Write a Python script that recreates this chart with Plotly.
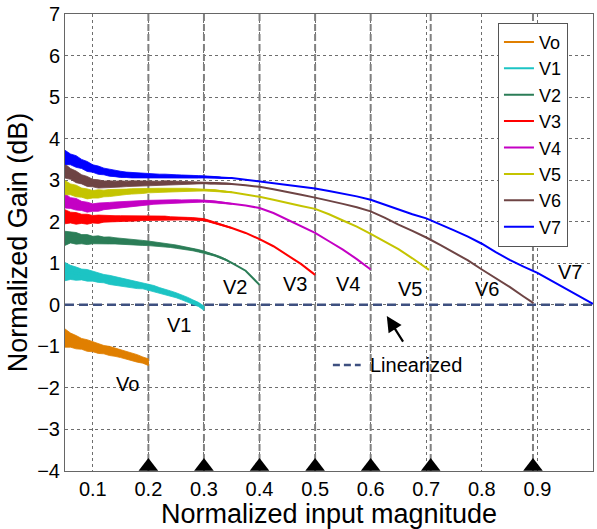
import plotly.graph_objects as go

# ---------------- data ----------------
X_N = [0.05, 0.06, 0.07, 0.08, 0.09, 0.10, 0.11, 0.12, 0.13, 0.14, 0.15, 0.16, 0.17,
       0.18, 0.19, 0.20, 0.21, 0.22, 0.23, 0.24, 0.25, 0.26, 0.27, 0.28, 0.29, 0.30,
       0.31, 0.32, 0.33, 0.34, 0.35]
X_S = [0.375, 0.40, 0.425, 0.45, 0.475, 0.50, 0.525, 0.55, 0.575, 0.60, 0.625, 0.65,
       0.675, 0.70, 0.725, 0.75, 0.775, 0.80, 0.825, 0.85, 0.875, 0.90, 0.925, 0.95,
       0.975, 1.0]

# mean gain curves (dB)
VO = [-0.80, -0.85, -0.90, -0.94, -0.98, -1.01, -1.05, -1.08, -1.11, -1.14, -1.17,
      -1.21, -1.25, -1.29, -1.33, -1.38]
V1 = [0.80, 0.78, 0.75, 0.73, 0.71, 0.69, 0.66, 0.63, 0.60, 0.58, 0.55, 0.53, 0.50,
      0.48, 0.46, 0.43, 0.39, 0.35, 0.31, 0.27, 0.23, 0.18, 0.13, 0.07, 0.01, -0.08]
V2 = [1.60, 1.62, 1.60, 1.58, 1.57, 1.56, 1.56, 1.55, 1.55, 1.54, 1.53, 1.52, 1.51,
      1.50, 1.49, 1.48, 1.47, 1.45, 1.44, 1.42, 1.40, 1.38, 1.35, 1.33, 1.30, 1.27,
      1.23, 1.19, 1.14, 1.08, 1.01,
      0.82, 0.48]
V3 = [2.12, 2.10, 2.08, 2.07, 2.06, 2.06, 2.06, 2.07, 2.07, 2.07, 2.07, 2.08, 2.08,
      2.08, 2.09, 2.09, 2.09, 2.09, 2.09, 2.08, 2.08, 2.08, 2.07, 2.07, 2.06, 2.05,
      2.01, 1.97, 1.93, 1.89, 1.85,
      1.73, 1.58, 1.41, 1.20, 0.98, 0.72]
V4 = [2.50, 2.45, 2.42, 2.38, 2.35, 2.34, 2.35, 2.37, 2.38, 2.40, 2.41, 2.42, 2.43,
      2.44, 2.45, 2.46, 2.47, 2.48, 2.48, 2.49, 2.49, 2.49, 2.50, 2.50, 2.50, 2.50,
      2.49, 2.48, 2.46, 2.45, 2.43,
      2.39, 2.33, 2.21, 2.05, 1.90, 1.73, 1.53, 1.33, 1.10, 0.85]
V5 = [2.82, 2.78, 2.74, 2.70, 2.67, 2.66, 2.67, 2.68, 2.69, 2.70, 2.71, 2.72, 2.73,
      2.74, 2.74, 2.75, 2.75, 2.76, 2.76, 2.76, 2.76, 2.77, 2.77, 2.77, 2.77, 2.77,
      2.76, 2.75, 2.73, 2.72, 2.71,
      2.66, 2.60, 2.53, 2.45, 2.38, 2.31, 2.18, 2.03, 1.88, 1.71, 1.52, 1.34, 1.12,
      0.84]
V6 = [3.22, 3.15, 3.08, 3.02, 2.97, 2.93, 2.91, 2.90, 2.90, 2.90, 2.91, 2.91, 2.92,
      2.92, 2.93, 2.93, 2.93, 2.93, 2.94, 2.94, 2.94, 2.94, 2.94, 2.94, 2.94, 2.94,
      2.93, 2.93, 2.92, 2.92, 2.91,
      2.88, 2.84, 2.78, 2.72, 2.65, 2.58, 2.51, 2.43, 2.35, 2.25, 2.10, 1.93, 1.78,
      1.62, 1.44, 1.26, 1.07, 0.85, 0.65, 0.43, 0.20, 0.04]
V7 = [3.55, 3.50, 3.45, 3.39, 3.33, 3.28, 3.24, 3.21, 3.18, 3.16, 3.14, 3.13, 3.12,
      3.11, 3.11, 3.10, 3.10, 3.10, 3.10, 3.09, 3.09, 3.09, 3.09, 3.08, 3.08, 3.08,
      3.07, 3.07, 3.06, 3.06, 3.05,
      3.01, 2.97, 2.93, 2.89, 2.85, 2.80, 2.74, 2.68, 2.61, 2.53, 2.41, 2.29, 2.18,
      2.08, 1.94, 1.79, 1.64, 1.47, 1.27, 1.08, 0.92, 0.77, 0.58, 0.40, 0.21, 0.02]

HW_LOW = [0.22, 0.17, 0.16, 0.13, 0.14, 0.12, 0.12, 0.10, 0.11, 0.10, 0.10, 0.085,
          0.09, 0.09, 0.075, 0.08, 0.075, 0.065, 0.07, 0.065, 0.06, 0.06, 0.055, 0.05,
          0.05, 0.05]
HW_HIGH = [0.17, 0.13, 0.14, 0.11, 0.12, 0.09, 0.10, 0.08, 0.085, 0.075, 0.075, 0.065,
           0.065, 0.06, 0.06, 0.055, 0.05, 0.045, 0.045, 0.04, 0.04, 0.035, 0.035,
           0.03, 0.03, 0.025, 0.025, 0.02, 0.02, 0.015, 0.01]

X_VO = X_N[:16]
X_V1 = X_N[:26]
X_V2 = X_N + X_S[:2]
X_V3 = X_N + X_S[:6]
X_V4 = X_N + X_S[:10]
X_V5 = X_N + X_S[:13] + [0.705]
X_V6 = X_N + X_S[:21] + [0.893]
X_V7 = X_N + X_S

NAMES = ["Vo", "V1", "V2", "V3", "V4", "V5", "V6", "V7"]
XS = [X_VO, X_V1, X_V2, X_V3, X_V4, X_V5, X_V6, X_V7]
YS = [VO, V1, V2, V3, V4, V5, V6, V7]
HWS = [HW_LOW, HW_LOW, HW_HIGH, HW_HIGH, HW_HIGH, HW_HIGH, HW_HIGH, HW_HIGH]
COLORS = ["#E07F00", "#1CC4C4", "#2B7D57", "#FF0000", "#C400C4", "#C4C400",
          "#6E4444", "#0000FF"]

# marker positions (x) on the axis and curve labels
MARK_X = [0.2, 0.3, 0.4, 0.5, 0.6, 0.708, 0.892]
LABEL_X = [0.163, 0.256, 0.355, 0.463, 0.56, 0.67, 0.81, 0.959]
LABEL_Y = [-1.90, -0.48, 0.43, 0.51, 0.51, 0.39, 0.39, 0.80]

XTICKS = [0.1, 0.2, 0.3, 0.4, 0.5, 0.6, 0.7, 0.8, 0.9, 1.0]
XTICKTEXT = ["0.1", "0.2", "0.3", "0.4", "0.5", "0.6", "0.7", "0.8", "0.9", "1"]
YTICKS = [-4, -3, -2, -1, 0, 1, 2, 3, 4, 5, 6, 7]

XMIN, XMAX = 0.05, 1.0
YMIN, YMAX = -4, 7

FONT = "Arial, Liberation Sans, sans-serif"

fig = go.Figure()

# vertical dashed marker lines
for mx in MARK_X:
    fig.add_trace(go.Scatter(x=[mx, mx], y=[YMIN, YMAX], mode="lines",
                             line=dict(color="#808080", width=2, dash="7px,3px"),
                             showlegend=False, hoverinfo="skip"))

# linearized line
fig.add_trace(go.Scatter(x=[XMIN, XMAX], y=[0, 0], mode="lines",
                         line=dict(color="#3E5080", width=2.5, dash="9px,5px"),
                         showlegend=False, hoverinfo="skip"))

# noise bands + gain curves
for name, xs, ys, hw, c in zip(NAMES, XS, YS, HWS, COLORS):
    n = min(len(hw), len(xs))
    bx = xs[:n] + xs[:n][::-1]
    by = [ys[i] + hw[i] for i in range(n)] + [ys[i] - hw[i] for i in range(n)][::-1]
    fig.add_trace(go.Scatter(x=bx, y=by, mode="lines", fill="toself", fillcolor=c,
                             line=dict(width=0.8, color=c), showlegend=False,
                             hoverinfo="skip"))
    fig.add_trace(go.Scatter(x=xs, y=ys, mode="lines", name=name,
                             line=dict(color=c, width=2)))

# triangles on the x axis
fig.add_trace(go.Scatter(x=MARK_X, y=[YMIN + 0.11] * len(MARK_X), mode="markers",
                         marker=dict(symbol="triangle-up", size=17, color="black"),
                         showlegend=False, hoverinfo="skip", cliponaxis=False))

# "Linearized" key inside plot
fig.add_trace(go.Scatter(x=[0.532, 0.582], y=[-1.45, -1.45], mode="lines",
                         line=dict(color="#3E5080", width=2.5, dash="7px,4px"),
                         showlegend=False, hoverinfo="skip"))
fig.add_annotation(x=0.596, y=-1.45, text="Linearized", showarrow=False,
                   xanchor="left", yanchor="middle",
                   font=dict(family=FONT, size=20, color="black"))

# arrow
fig.add_annotation(x=0.629, y=-0.27, ax=0.660, ay=-0.92, axref="x", ayref="y",
                   xref="x", yref="y", text="", showarrow=True,
                   arrowhead=2, arrowsize=1.4, arrowwidth=2.2, arrowcolor="black")

# curve labels
for name, lx, ly in zip(NAMES, LABEL_X, LABEL_Y):
    fig.add_annotation(x=lx, y=ly, text=name, showarrow=False,
                       font=dict(family=FONT, size=20, color="black"))

axis_common = dict(showgrid=True, gridcolor="#6e6e6e", griddash="dot", gridwidth=1,
                   zeroline=False, showline=True, linecolor="#666666", linewidth=1,
                   mirror=True, ticks="",
                   tickfont=dict(family=FONT, size=20, color="black"))

fig.update_layout(
    width=597, height=529,
    margin=dict(l=65, r=4, t=14, b=58),
    paper_bgcolor="white", plot_bgcolor="white",
    font=dict(family=FONT, color="black"),
    xaxis=dict(range=[XMIN, XMAX], tickvals=XTICKS, ticktext=XTICKTEXT,
               title=dict(text="Normalized input magnitude",
                          font=dict(family=FONT, size=27), standoff=0),
               **axis_common),
    yaxis=dict(range=[YMIN, YMAX], tickvals=YTICKS,
               title=dict(text="Normalized Gain (dB)",
                          font=dict(family=FONT, size=27), standoff=1),
               **axis_common),
    legend=dict(x=0.82, y=0.981, xanchor="left", yanchor="top",
                bgcolor="white", bordercolor="#555555", borderwidth=1,
                font=dict(family=FONT, size=18, color="black"),
                itemwidth=30, tracegroupgap=0),
)

fig.write_html("out.html")
